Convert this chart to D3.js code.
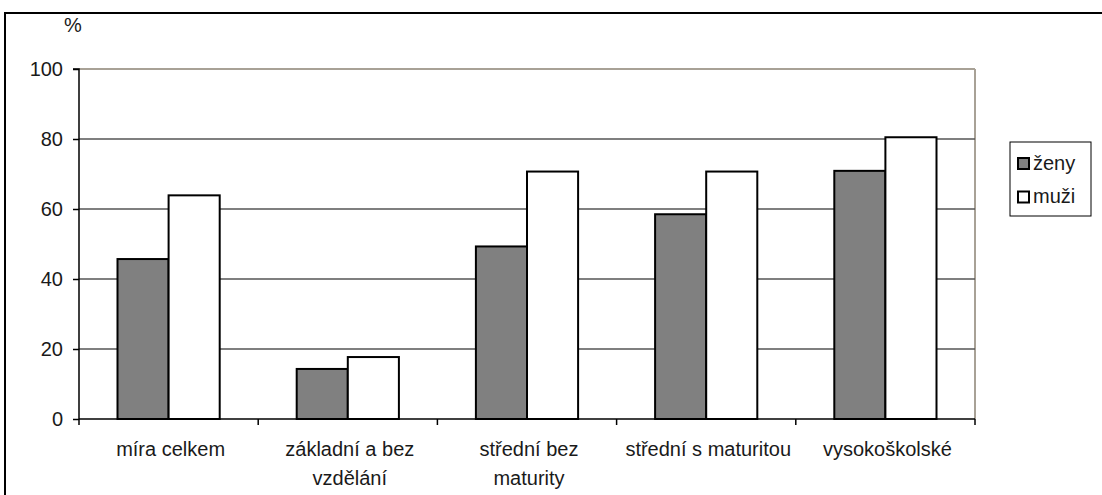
<!DOCTYPE html>
<html><head><meta charset="utf-8">
<script src="https://cdn.jsdelivr.net/npm/d3@7"></script>
<style>body{margin:0;background:#fff;}svg{display:block;font-family:"Liberation Sans",Arial,sans-serif;}</style>
</head><body>
<svg id="c" width="1102" height="495"></svg>
<script>
const categories = [["míra celkem"],["základní a bez","vzdělání"],["střední bez","maturity"],["střední s maturitou"],["vysokoškolské"]];
const seriesNames = ["ženy","muži"];
const zeny = [45.7, 14.3, 49.3, 58.5, 70.9];
const muzi = [63.9, 17.7, 70.7, 70.7, 80.5];
const yTicks = [0,20,40,60,80,100];
const seriesFill = ["#808080","#ffffff"];

const svg = d3.select("#c");
const L=79, R=975, T=69, B=419;
const FS = 20;
const keys = categories.map((c,i)=>i);
const x0 = d3.scaleBand().domain(keys).range([L,R]).paddingInner(0).paddingOuter(0);
const x1 = d3.scaleBand().domain([0,1]).range([38.5, 140.7]);
const y = d3.scaleLinear().domain([0,100]).range([B,T]);

// outer frame
svg.append("line").attr("x1",4).attr("x2",1102).attr("y1",13).attr("y2",13).attr("stroke","#000").attr("stroke-width",2);
svg.append("line").attr("x1",5).attr("x2",5).attr("y1",12).attr("y2",495).attr("stroke","#000").attr("stroke-width",2);

// plot frame top/right
svg.append("line").attr("x1",L).attr("x2",R).attr("y1",T).attr("y2",T).attr("stroke","#a8a196").attr("stroke-width",2);
svg.append("line").attr("x1",R).attr("x2",R).attr("y1",T).attr("y2",B).attr("stroke","#a8a196").attr("stroke-width",2);

// gridlines
svg.append("g").selectAll("line").data(yTicks.filter(v=>v>0&&v<100)).join("line")
  .attr("x1",L).attr("x2",R).attr("y1",d=>y(d)).attr("y2",d=>y(d)).attr("stroke","#555").attr("stroke-width",1.5);

// bars
const data = keys.map(i=>[zeny[i],muzi[i]]);
const g = svg.append("g");
data.forEach((vals,i)=>{
  vals.forEach((v,s)=>{
    g.append("rect").attr("x",x0(i)+x1(s)).attr("y",y(v)).attr("width",x1.bandwidth()).attr("height",y(0)-y(v))
      .attr("fill",seriesFill[s]).attr("stroke","#000").attr("stroke-width",2);
  });
});

// y axis
const ya = svg.append("g").attr("transform",`translate(${L},0)`)
  .call(d3.axisLeft(y).tickValues(yTicks).tickSize(6).tickPadding(10).tickFormat(d3.format("d")));
ya.select(".domain").attr("stroke","#000").attr("stroke-width",1.5).attr("d",`M-6,${T}H0V${B}`);
ya.selectAll(".tick line").attr("stroke","#000").attr("stroke-width",1.5);
ya.selectAll(".tick text").attr("font-size",FS).attr("fill","#1a1a1a").attr("font-family","Liberation Sans, Arial, sans-serif");

// x axis
const xTickPos = keys.map(i=>x0(i)).concat([R]);
const xa = svg.append("g");
xa.append("line").attr("x1",L).attr("x2",R).attr("y1",B).attr("y2",B).attr("stroke","#000").attr("stroke-width",1.5);
xa.selectAll("line.t").data(xTickPos).join("line").attr("class","t")
  .attr("x1",d=>d).attr("x2",d=>d).attr("y1",B).attr("y2",B+6).attr("stroke","#000").attr("stroke-width",1.5);
categories.forEach((lines,i)=>{
  const cx = x0(i)+x0.bandwidth()/2+2;
  const t = xa.append("text").attr("text-anchor","middle").attr("font-size",FS).attr("fill","#1a1a1a")
    .attr("x",cx).attr("y",456);
  lines.forEach((ln,k)=>t.append("tspan").attr("x",cx).attr("dy",k?29:0).text(ln));
});

// % label
svg.append("text").attr("x",73).attr("y",32).attr("text-anchor","middle").attr("font-size",FS).attr("fill","#1a1a1a").text("%");

// legend
const lg = svg.append("g");
lg.append("rect").attr("x",1010).attr("y",142).attr("width",81).attr("height",74).attr("fill","#fff").attr("stroke","#000").attr("stroke-width",1);
seriesNames.forEach((n,s)=>{
  const yy = [163.5,197][s];
  lg.append("rect").attr("x",1018).attr("y",yy-5.5).attr("width",11).attr("height",11).attr("fill",seriesFill[s]).attr("stroke","#000").attr("stroke-width",2);
  lg.append("text").attr("x",1033).attr("y",yy+6).attr("font-size",FS).attr("fill","#1a1a1a").text(n);
});
</script>
</body></html>
